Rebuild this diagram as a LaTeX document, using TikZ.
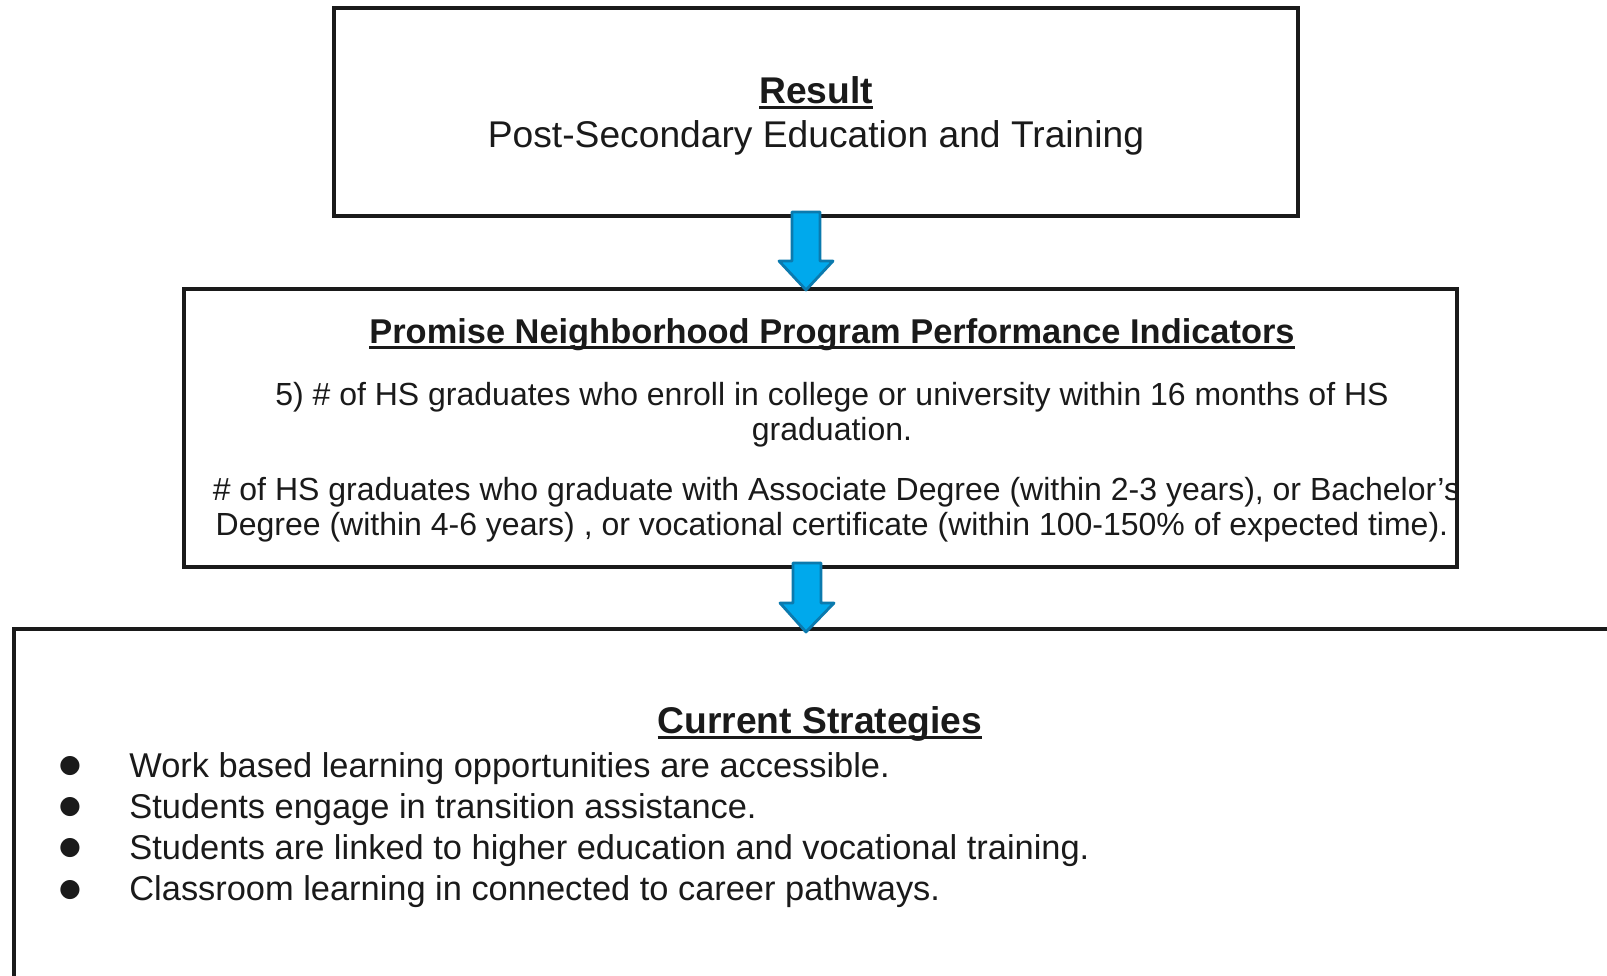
\documentclass[tikz,border=0pt]{standalone}
\usepackage{fontspec}
\setmainfont{Liberation Sans}
\newfontfamily\symfont{DejaVu Sans}
\usepackage{tikz}
\usetikzlibrary{calc}
\definecolor{arrowfill}{HTML}{00A9EC}
\definecolor{arrowedge}{HTML}{0B7AAE}
\definecolor{boxline}{HTML}{1A1A1A}
\newcommand{\ulined}[1]{\setbox0\hbox{#1}\rlap{\rule[-2.8pt]{\wd0}{1.3pt}}\box0}

\begin{document}
\begin{tikzpicture}[x=0.5pt, y=-0.5pt,
        box/.style={draw=boxline, line width=2.25pt},
        blockarrow/.style={draw=arrowedge, fill=arrowfill, line width=1.4pt, line join=round},
        txt/.style={anchor=base, inner sep=0pt, text=boxline},
        bigtxt/.style={txt, font=\fontsize{18.6}{22}\selectfont},
        midtxt/.style={txt, font=\fontsize{16}{18}\selectfont},
        listtxt/.style={txt, anchor=base west, font=\fontsize{17.2}{20}\selectfont}]
        \clip (0,0) rectangle (1607,975);
        \useasboundingbox (0,0) rectangle (1607,975);
        % boxes
        \draw[box] (334,8) rectangle (1298,216);
        \draw[box] (184,289) rectangle (1457,567);
        \draw[box] (14,629) rectangle (1640,1000);
        % arrow ends
        \coordinate (top1) at (806,212);
        \coordinate (tip1) at (806,290);
        \coordinate (top2) at (807,563);
        \coordinate (tip2) at (806,632);
        \foreach \from/\to in {top1/tip1, top2/tip2} {
            \draw[blockarrow] let \p1=(\from), \p2=(\to) in
                (\x1-7pt,\y1) -- (\x1+7pt,\y1) -- (\x1+7pt,\y2+14.5pt) -- (\x1+13.5pt,\y2+14.5pt)
                -- (\x2,\y2) -- (\x1-13.5pt,\y2+14.5pt) -- (\x1-7pt,\y2+14.5pt) -- cycle;
        }
        % result
        \node[bigtxt] (restitle) at (816,103.3) {\bfseries\ulined{Result}};
        \node[bigtxt] (restext) at (816,147.3) {Post-Secondary Education and Training};
        % indicators
        \node[txt, font=\fontsize{17.2}{20}\selectfont] (pnititle) at (832,343)
            {\bfseries\ulined{Promise Neighborhood Program Performance Indicators}};
        \node[midtxt] (pni1) at (832,405) {5) \# of HS graduates who enroll in college or university within 16 months of HS};
        \node[midtxt] (pni2) at (832,440) {graduation.};
        \node[midtxt] (pni3) at (836.5,500) {\# of HS graduates who graduate with Associate Degree (within 2-3 years), or Bachelor’s};
        \node[midtxt] (pni4) at (832,535) {Degree (within 4-6 years) , or vocational certificate (within 100-150\% of expected time).};
        % strategies
        \node[txt, font=\fontsize{18.6}{22}\selectfont] (strtitle) at (820,733) {\bfseries\ulined{Current Strategies}};
        \foreach \y/\item in {777.3/Work based learning opportunities are accessible.,
                              818.3/Students engage in transition assistance.,
                              859.3/Students are linked to higher education and vocational training.,
                              900.7/Classroom learning in connected to career pathways.} {
            \node[txt, font=\symfont\fontsize{12.5}{14}\selectfont] at (70,\y-4.5) {●};
            \node[listtxt] at (129,\y) {\item};
        }
\end{tikzpicture}
\end{document}
